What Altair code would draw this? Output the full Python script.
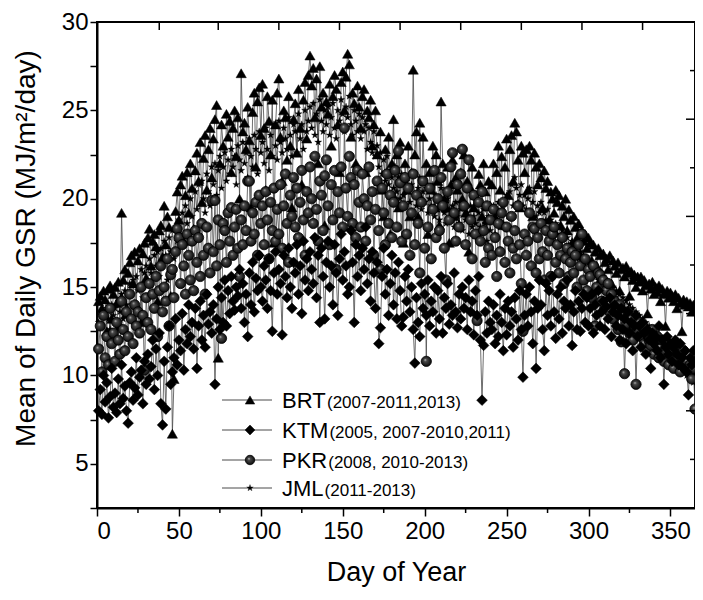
import altair as alt
import pandas as pd

DAYS = list(range(1, 366))

BRT = [
14.2, 14.5, 13.8, 14.8, 14.3, 12.5, 14.9, 15.1, 13.2, 14.6,
15.0, 14.1, 15.3, 12.8, 19.2, 15.4, 16.0, 13.5, 15.8, 16.4,
16.8, 15.2, 17.0, 14.0, 16.5, 17.2, 13.0, 16.9, 17.5, 15.5,
17.8, 18.3, 16.2, 17.6, 18.0, 17.3, 14.2, 18.2, 18.5, 16.7,
19.6, 17.4, 19.0, 18.4, 14.5, 6.7, 9.8, 19.3, 20.4, 18.8,
20.8, 21.3, 17.6, 20.2, 21.5, 19.2, 22.0, 20.6, 18.3, 21.6,
22.6, 21.0, 23.2, 19.8, 22.3, 23.6, 20.5, 22.8, 24.0, 21.2,
23.4, 24.5, 25.3, 11.0, 22.0, 24.2, 23.0, 18.5, 24.8, 23.5,
24.4, 21.5, 24.0, 25.0, 22.4, 24.6, 20.0, 27.1, 23.8, 24.3,
22.8, 25.2, 23.3, 19.5, 24.9, 26.0, 21.8, 25.5, 26.3, 23.6,
26.5, 24.0, 20.5, 25.8, 24.4, 22.5, 25.6, 17.5, 24.2, 26.0,
26.8, 23.5, 21.0, 25.0, 24.6, 22.2, 25.8, 23.0, 19.5, 24.5,
25.4, 22.6, 26.2, 24.0, 20.8, 25.6, 26.6, 23.4, 27.0, 28.1,
26.4, 27.4, 24.6, 26.8, 22.0, 27.5, 25.2, 26.0, 18.5, 25.5,
24.8, 26.5, 23.0, 25.8, 27.0, 26.2, 24.2, 21.5, 26.6, 27.2,
25.0, 26.9, 28.2, 27.6, 23.5, 26.0, 25.4, 22.0, 26.4, 25.2,
24.0, 25.8, 26.2, 21.5, 25.0, 24.6, 25.6, 23.0, 24.2, 25.0,
22.5, 21.0, 23.8, 20.5, 19.0, 22.8, 21.5, 23.5, 18.0, 22.0,
24.5, 20.0, 22.5, 19.5, 23.2, 21.0, 17.5, 22.0, 20.5, 23.0,
19.0, 21.5, 27.3, 22.5, 23.8, 19.0, 24.3, 20.0, 23.5, 21.0,
22.0, 18.0, 21.5, 20.5, 23.0, 19.5, 22.5, 21.0, 18.5, 25.5,
22.0, 20.0, 19.5, 21.8, 17.5, 20.8, 22.2, 19.0, 21.2, 20.5,
18.5, 21.5, 20.0, 22.5, 19.2, 21.0, 17.0, 20.6, 21.8, 19.5,
20.2, 18.0, 21.4, 20.8, 19.0, 22.0, 20.4, 18.8, 21.0, 19.6,
20.8, 22.0, 19.0, 21.5, 23.0, 20.5, 22.4, 18.5, 21.8, 23.4,
20.2, 22.8, 23.6, 21.0, 24.3, 23.8, 22.2, 19.5, 23.0, 22.6,
21.5, 22.8, 20.5, 23.0, 22.2, 19.0, 22.6, 21.8, 20.8, 22.0,
21.2, 19.5, 21.6, 20.6, 21.0, 18.8, 20.4, 20.0, 19.2, 20.5,
19.8, 20.2, 18.5, 19.6, 19.0, 20.0, 18.2, 19.4, 18.8, 17.5,
19.0, 18.4, 17.8, 18.6, 16.8, 18.2, 17.6, 18.0, 17.2, 17.8,
17.5, 16.5, 17.4, 17.0, 16.2, 17.2, 16.8, 15.5, 16.9, 16.4,
16.6, 16.0, 16.8, 15.2, 16.5, 16.2, 15.8, 16.4, 14.8, 16.0,
16.1, 15.6, 16.2, 15.8, 14.5, 15.9, 15.4, 15.7, 15.0, 15.6,
15.3, 15.6, 14.8, 15.4, 15.1, 13.5, 15.2, 14.9, 15.3, 14.6,
15.0, 14.7, 15.1, 14.2, 14.9, 14.6, 12.8, 14.8, 14.4, 14.7,
14.5, 14.2, 14.6, 13.8, 14.4, 14.1, 12.5, 14.3, 14.0, 14.2,
13.9, 14.1, 13.6, 14.0, 13.8,
]

KTM = [
8.0, 9.2, 7.8, 10.0, 8.5, 9.6, 7.6, 8.8, 10.4, 8.2,
9.0, 7.9, 9.8, 8.4, 10.6, 8.7, 9.4, 8.0, 7.3, 9.6,
10.2, 8.6, 9.3, 11.0, 8.9, 9.9, 10.3, 8.4, 10.8, 9.5,
11.2, 9.8, 10.5, 12.0, 9.2, 11.5, 10.0, 12.4, 8.4, 7.2,
10.8, 8.1, 11.6, 12.8, 9.5, 10.2, 11.0, 13.2, 10.6, 12.0,
11.4, 13.5, 10.3, 12.6, 11.8, 14.0, 12.2, 13.0, 11.5, 13.8,
10.4, 12.8, 14.2, 12.0, 13.4, 11.6, 14.6, 12.9, 13.6, 12.4,
14.0, 9.5, 13.2, 15.0, 12.6, 14.4, 13.0, 15.4, 12.8, 14.8,
13.5, 15.6, 14.2, 13.7, 15.0, 14.5, 16.0, 13.8, 15.2, 13.0,
14.6, 12.2, 15.8, 14.0, 16.4, 13.6, 15.5, 14.8, 16.8, 15.0,
14.2, 16.2, 15.4, 13.8, 16.6, 14.8, 12.5, 15.8, 17.0, 14.6,
16.0, 15.2, 12.3, 16.8, 15.6, 14.4, 17.2, 15.0, 13.8, 16.4,
15.8, 17.4, 14.6, 16.2, 13.5, 17.6, 15.4, 16.6, 14.8, 17.0,
16.0, 15.2, 17.8, 14.4, 16.8, 13.0, 17.2, 15.6, 13.2, 16.4,
17.6, 15.0, 16.2, 14.0, 17.4, 15.8, 13.4, 16.6, 18.0, 15.4,
17.0, 16.2, 14.6, 15.0, 18.2, 16.4, 13.0, 17.4, 15.6, 16.8,
14.8, 17.2, 16.0, 18.4, 15.2, 16.6, 14.2, 17.0, 15.8, 13.8,
16.4, 11.8, 12.7, 15.6, 17.2, 14.6, 16.0, 13.4, 15.2, 16.8,
14.0, 15.8, 13.2, 16.4, 14.8, 12.8, 13.3, 15.6, 14.2, 16.0,
13.6, 15.0, 12.6, 10.7, 14.4, 13.0, 12.2, 15.2, 13.8, 14.6,
13.4, 15.4, 12.8, 14.2, 13.6, 15.0, 12.4, 14.8, 13.2, 15.6,
12.4, 14.4, 13.8, 15.2, 12.9, 14.0, 13.4, 15.8, 13.6, 12.7,
14.6, 13.2, 15.0, 13.8, 14.4, 12.6, 15.4, 13.6, 14.2, 12.3,
14.8, 13.4, 15.6, 12.0, 8.6, 11.7, 13.6, 12.4, 14.2, 13.0,
12.6, 14.0, 11.8, 13.4, 12.2, 14.6, 13.0, 11.4, 13.8, 12.3,
14.2, 12.8, 13.6, 11.6, 14.4, 13.2, 12.0, 14.8, 12.6, 9.9,
13.4, 14.6, 12.8, 15.0, 13.6, 11.8, 14.2, 10.4, 13.8, 15.4,
14.0, 12.6, 11.4, 15.2, 13.4, 14.8, 12.8, 15.6, 13.6, 12.1,
14.6, 13.2, 15.0, 12.4, 14.2, 13.8, 15.4, 12.8, 14.0, 11.7,
13.6, 14.8, 12.6, 14.2, 12.5, 13.8, 14.6, 13.0, 14.4, 12.8,
13.8, 14.6, 12.4, 14.0, 13.4, 14.8, 12.8, 13.6, 14.2, 12.6,
13.9, 13.2, 14.4, 12.2, 13.6, 14.0, 12.8, 13.4, 12.0, 13.8,
12.6, 13.2, 11.8, 13.6, 12.4, 13.0, 11.4, 12.8, 13.4, 12.2,
12.8, 11.6, 13.0, 12.4, 11.2, 12.6, 12.0, 10.4, 12.4, 11.8,
12.2, 11.4, 12.8, 11.0, 12.0, 9.5, 11.6, 12.2, 11.2, 11.8,
10.8, 11.6, 12.0, 11.2, 10.6, 11.8, 11.0, 10.4, 11.4, 10.2,
8.9, 11.0, 10.6, 11.4, 10.8,
]

PKR = [
11.5, 12.8, 10.2, 13.4, 11.0, 12.2, 10.6, 13.8, 11.8, 12.4,
10.8, 13.0, 12.0, 11.2, 14.2, 12.6, 11.4, 13.6, 12.2, 14.6,
13.2, 11.8, 14.0, 12.8, 13.6, 12.4, 15.0, 13.4, 10.3, 14.4,
13.0, 15.2, 12.6, 14.6, 13.8, 15.6, 12.2, 14.8, 16.2, 13.6,
15.0, 14.2, 16.6, 12.8, 15.7, 16.0, 14.4, 17.0, 18.3, 17.8,
15.2, 17.4, 16.2, 14.6, 18.0, 16.8, 15.4, 17.6, 14.8, 18.2,
16.4, 17.8, 15.6, 18.6, 16.8, 14.6, 18.4, 17.2, 15.8, 19.9,
17.0, 19.9, 16.2, 18.8, 17.4, 12.1, 18.6, 18.2, 16.4, 19.2,
17.6, 19.5, 16.8, 18.4, 19.4, 17.2, 15.6, 18.8, 17.4, 19.6,
18.2, 21.0, 21.0, 17.6, 19.2, 18.0, 19.8, 16.8, 20.2, 18.6,
19.6, 17.4, 20.4, 18.8, 16.6, 19.8, 18.2, 20.6, 17.6, 19.4,
18.0, 20.8, 17.2, 19.6, 21.4, 18.6, 16.4, 20.2, 19.0, 21.2,
18.4, 20.6, 17.8, 19.8, 21.6, 18.8, 16.8, 20.4, 19.2, 21.8,
20.0, 18.6, 22.4, 19.4, 17.6, 21.0, 20.2, 18.2, 21.3, 22.2,
19.6, 17.4, 20.8, 18.8, 21.6, 16.0, 20.4, 19.2, 21.8, 18.4,
24.0, 20.6, 19.0, 22.4, 21.2, 18.6, 20.8, 17.8, 21.6, 19.8,
18.4, 21.4, 20.0, 17.6, 19.6, 21.8, 18.8, 20.4, 16.8, 19.4,
21.0, 18.2, 16.0, 20.6, 19.2, 17.4, 21.4, 18.6, 20.2, 17.8,
19.8, 21.6, 18.4, 22.7, 20.9, 17.6, 19.6, 21.2, 18.0, 20.6,
16.8, 19.2, 21.4, 17.4, 20.2, 18.6, 15.8, 19.8, 21.0, 17.2,
10.8, 18.4, 20.6, 16.6, 19.4, 21.6, 17.8, 20.0, 18.2, 21.2,
19.6, 17.2, 15.4, 20.4, 18.8, 21.8, 22.6, 19.2, 17.6, 20.8,
18.4, 21.4, 22.8, 19.6, 17.4, 20.6, 22.2, 18.8, 16.6, 20.2,
18.0, 13.1, 19.8, 17.6, 20.4, 18.2, 16.4, 19.6, 17.2, 18.8,
16.8, 19.4, 17.8, 15.6, 18.6, 17.0, 19.2, 19.8, 16.4, 18.4,
17.6, 15.8, 19.0, 17.2, 18.2, 16.6, 19.6, 17.4, 15.2, 12.5,
18.0, 16.8, 17.6, 19.2, 16.2, 18.4, 18.3, 15.8, 17.8, 16.6,
18.6, 17.0, 15.4, 18.2, 16.8, 17.6, 15.6, 18.0, 18.4, 16.4,
17.4, 15.8, 16.8, 17.8, 15.2, 16.6, 17.2, 15.6, 16.4, 17.0,
15.8, 16.8, 15.0, 17.4, 16.2, 18.0, 15.4, 16.6, 14.8, 16.0,
15.6, 14.4, 16.2, 12.8, 15.0, 15.8, 15.7, 14.2, 15.4, 13.8,
14.8, 15.2, 13.6, 14.6, 13.2, 14.2, 13.8, 12.6, 14.0, 11.9,
13.4, 10.1, 12.9, 13.6, 12.4, 13.2, 12.0, 12.8, 9.5, 12.6,
13.0, 12.2, 12.8, 11.8, 12.4, 11.4, 12.0, 11.7, 12.6, 11.2,
11.8, 12.2, 11.0, 11.6, 12.0, 10.8, 11.4, 11.8, 10.6, 11.2,
11.0, 10.4, 11.6, 10.9, 11.2, 10.2, 10.8, 11.4, 10.4, 10.8,
10.2, 10.6, 9.8, 10.4, 8.1,
]

JML = [
13.0, 13.6, 12.8, 13.4, 12.2, 13.8, 13.2, 12.6, 14.0, 13.4,
13.8, 12.8, 14.2, 13.6, 14.6, 13.2, 14.8, 14.0, 13.4, 15.2,
14.6, 15.4, 13.8, 15.6, 14.8, 15.0, 16.0, 14.4, 15.8, 16.2,
15.4, 16.6, 15.8, 14.6, 16.8, 16.2, 17.0, 15.6, 17.2, 16.4,
17.6, 16.8, 15.4, 17.8, 17.0, 18.2, 16.6, 18.4, 17.6, 18.8,
18.0, 19.2, 17.4, 19.6, 18.6, 17.8, 20.0, 19.0, 18.2, 20.4,
19.4, 20.8, 18.6, 21.0, 20.0, 19.2, 21.4, 20.4, 19.6, 21.8,
20.8, 22.0, 20.2, 21.6, 22.4, 20.6, 21.8, 22.6, 21.0, 22.2,
21.4, 22.8, 21.8, 22.4, 20.8, 23.0, 22.2, 21.6, 23.2, 22.0,
22.6, 21.2, 23.4, 22.4, 21.8, 23.6, 22.8, 21.4, 23.8, 22.6,
23.2, 22.0, 24.0, 22.8, 21.6, 23.6, 22.4, 24.2, 23.0, 22.2,
24.4, 23.2, 22.6, 24.0, 23.4, 22.8, 24.6, 23.6, 22.4, 24.2,
23.8, 22.6, 24.8, 23.4, 24.2, 22.8, 25.0, 23.8, 24.4, 25.2,
24.0, 25.4, 23.6, 24.8, 23.2, 25.6, 24.4, 23.8, 25.0, 24.2,
25.2, 23.6, 24.6, 25.4, 24.0, 23.4, 25.0, 24.4, 25.6, 24.8,
23.8, 25.2, 24.6, 25.8, 24.2, 23.6, 25.0, 24.4, 23.8, 24.8,
23.4, 24.6, 23.8, 24.2, 22.8, 24.0, 23.2, 22.6, 23.8, 22.4,
23.0, 21.8, 22.6, 21.4, 22.2, 21.0, 22.4, 20.8, 21.6, 21.2,
20.6, 21.8, 20.4, 21.2, 20.0, 21.4, 20.2, 19.6, 21.0, 20.4,
19.8, 20.8, 21.4, 20.2, 19.6, 20.6, 21.2, 19.4, 20.4, 19.8,
20.6, 19.2, 20.0, 19.6, 20.8, 19.0, 20.2, 19.4, 18.8, 20.6,
19.8, 19.2, 18.6, 20.0, 19.4, 18.8, 19.6, 18.4, 19.8, 19.0,
18.6, 19.4, 18.2, 19.8, 18.8, 19.2, 18.0, 19.6, 18.4, 19.0,
18.6, 17.8, 19.2, 18.4, 18.0, 19.4, 18.6, 17.6, 19.0, 18.2,
18.8, 19.6, 18.0, 19.2, 19.8, 18.4, 19.4, 18.6, 19.8, 20.2,
19.0, 20.4, 20.8, 19.6, 21.2, 20.6, 19.8, 20.2, 20.8, 19.6,
20.2, 19.4, 20.0, 20.6, 19.2, 19.8, 20.4, 19.0, 19.6, 19.2,
19.8, 18.6, 19.2, 18.8, 19.4, 18.2, 18.8, 18.4, 17.8, 18.6,
18.0, 18.4, 17.6, 18.2, 17.8, 17.2, 17.8, 17.4, 17.0, 17.6,
17.2, 16.8, 17.4, 16.6, 17.0, 16.4, 16.8, 16.2, 16.6, 16.0,
16.4, 15.8, 16.2, 15.6, 16.0, 15.4, 15.8, 15.2, 15.6, 15.0,
15.4, 14.8, 15.2, 14.6, 15.0, 14.4, 14.8, 14.2, 14.6, 14.0,
14.4, 13.8, 14.2, 13.6, 14.0, 13.4, 13.8, 13.2, 13.6, 13.0,
13.4, 12.8, 13.2, 12.6, 13.0, 12.4, 12.8, 12.2, 12.6, 12.0,
12.4, 11.8, 12.2, 11.6, 12.0, 11.4, 11.8, 11.2, 11.6, 11.0,
11.4, 10.8, 11.2, 10.6, 11.0, 10.4, 10.8, 10.2, 10.6, 10.0,
10.4, 9.8, 10.2, 9.6, 10.0,
]

SERIES = ["BRT", "KTM", "PKR", "JML"]
YEARS = ["(2007-2011,2013)", "(2005, 2007-2010,2011)", "(2008, 2010-2013)", "(2011-2013)"]
X_TICKS = [0, 50, 100, 150, 200, 250, 300, 350]
X_MINOR = [25, 75, 125, 175, 225, 275, 325]
Y_TICKS = [2.5, 5, 7.5, 10, 12.5, 15, 17.5, 20, 22.5, 25, 27.5, 30]
TOP_TICKS = [38, 74, 111, 148, 185, 222, 259, 296, 333]
RIGHT_LONG = [24.5, 19.0, 13.5, 8.0]
RIGHT_SHORT = [27.25, 21.75, 16.25, 10.75, 5.25]

assert all(len(s) == 365 for s in (BRT, KTM, PKR, JML))

W, H = 598, 486
FONT = "Liberation Sans"

df = pd.DataFrame({
    "day": DAYS * 4,
    "gsr": BRT + KTM + PKR + JML,
    "series": sum([[s] * 365 for s in SERIES], []),
})

xs = alt.Scale(domain=[0, 365], nice=False, zero=False)
ys = alt.Scale(domain=[2.5, 30], nice=False, zero=False)

x_axis = alt.Axis(values=X_TICKS, title="Day of Year", tickSize=8, labelPadding=3,
                  titlePadding=16, format="d", grid=False)
y_axis = alt.Axis(values=Y_TICKS, title="Mean of Daily GSR (MJ/m²/day)", tickSize=7,
                  labelPadding=2, titlePadding=21, grid=False,
                  labelExpr="datum.value % 5 == 0 ? format(datum.value, 'd') : ''",
                  titleY=226)

base = alt.Chart(df)

lines = base.mark_line(color="#4a4a4a", strokeWidth=0.8).encode(
    x=alt.X("day:Q", scale=xs, axis=x_axis),
    y=alt.Y("gsr:Q", scale=ys, axis=y_axis),
    detail="series:N",
)

STAR = ("M0,-1L0.235,-0.324L0.951,-0.309L0.38,0.124L0.588,0.809L0,0.4L-0.588,0.809"
        "L-0.38,0.124L-0.951,-0.309L-0.235,-0.324Z")
SPHERE = {
    "gradient": "radial", "x1": 0.38, "y1": 0.35, "r1": 0.0,
    "x2": 0.5, "y2": 0.5, "r2": 0.55,
    "stops": [
        {"offset": 0.0, "color": "#c8c8c8"},
        {"offset": 0.25, "color": "#4a4a4a"},
        {"offset": 1.0, "color": "#050505"},
    ],
}

STYLE = {
    "BRT": dict(shape="triangle-up", size=105, filled=True, fill="black", stroke="black", strokeWidth=0.5, opacity=1),
    "KTM": dict(shape="diamond", size=115, filled=True, fill="black", stroke="black", strokeWidth=0.5, opacity=1),
    "PKR": dict(shape="circle", size=105, filled=True, fill=SPHERE, stroke="#000000", strokeWidth=0.8, opacity=1),
    "JML": dict(shape=STAR, size=55, filled=True, fill="black", stroke="black", strokeWidth=0.3, opacity=1),
}

layers = [lines]
for s in ["JML", "BRT", "PKR", "KTM"]:
    layers.append(
        base.transform_filter(alt.datum.series == s).mark_point(**STYLE[s]).encode(
            x=alt.X("day:Q", scale=xs),
            y=alt.Y("gsr:Q", scale=ys),
        )
    )

# extra tick marks (minor bottom, inward top and right)
minor_df = pd.DataFrame({"day": X_MINOR})
layers.append(alt.Chart(minor_df).mark_rule(color="black", strokeWidth=1.5).encode(
    x=alt.X("day:Q", scale=xs), y=alt.value(H), y2=alt.value(H + 5)))
top_df = pd.DataFrame({"day": TOP_TICKS})
layers.append(alt.Chart(top_df).mark_rule(color="black", strokeWidth=1.5).encode(
    x=alt.X("day:Q", scale=xs), y=alt.value(0), y2=alt.value(8)))
rl_df = pd.DataFrame({"gsr": RIGHT_LONG})
layers.append(alt.Chart(rl_df).mark_rule(color="black", strokeWidth=1.5).encode(
    y=alt.Y("gsr:Q", scale=ys), x=alt.value(W - 9), x2=alt.value(W)))
rs_df = pd.DataFrame({"gsr": RIGHT_SHORT})
layers.append(alt.Chart(rs_df).mark_rule(color="black", strokeWidth=1.5).encode(
    y=alt.Y("gsr:Q", scale=ys), x=alt.value(W - 5), x2=alt.value(W)))

# custom legend
ARIAL = {"B": 0.667, "R": 0.722, "T": 0.611, "K": 0.667, "M": 0.833,
         "P": 0.667, "J": 0.5, "L": 0.556}
LEG_Y = [378, 408, 438, 466]
one = pd.DataFrame({"k": [0]})
for i, s in enumerate(SERIES):
    yc = LEG_Y[i]
    layers.append(alt.Chart(one).mark_rule(color="#4a4a4a", strokeWidth=1).encode(
        x=alt.value(125), x2=alt.value(175), y=alt.value(yc)))
    st = dict(STYLE[s])
    st["size"] = st["size"] * 0.85
    layers.append(alt.Chart(one).mark_point(**st).encode(x=alt.value(153), y=alt.value(yc)))
    layers.append(alt.Chart(one).mark_text(text=s, font=FONT, fontSize=22, align="left",
                                           baseline="alphabetic", color="black").encode(
        x=alt.value(185), y=alt.value(yc + 8)))
    wmain = sum(ARIAL[c] for c in s) * 22
    layers.append(alt.Chart(one).mark_text(text=YEARS[i], font=FONT, fontSize=17, align="left",
                                           baseline="alphabetic", color="black").encode(
        x=alt.value(185 + wmain + 1), y=alt.value(yc + 8)))

chart = alt.layer(*layers).properties(
    width=W, height=H,
    autosize=alt.AutoSizeParams(type="none"),
    padding={"left": 89, "top": 14, "right": 0, "bottom": 88},
    background="white",
).configure_view(
    stroke="black", strokeWidth=2,
).configure_axis(
    labelFont=FONT, titleFont=FONT, labelFontSize=24, titleFontSize=27,
    labelColor="black", titleColor="black", titleFontWeight="normal",
    domainColor="black", domainWidth=2, tickColor="black", tickWidth=1.5,
).configure_axisY(
    titleFontSize=28,
)

chart.save("out.html", embed_options={"renderer": "svg", "actions": False})
